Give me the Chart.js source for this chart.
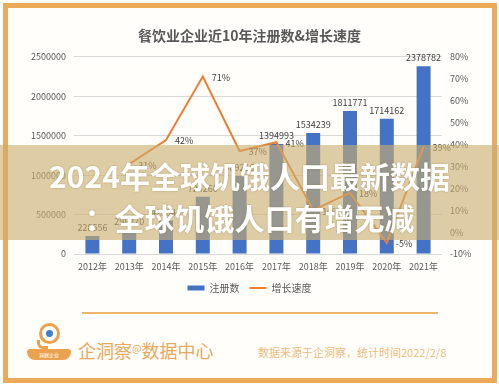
<!DOCTYPE html>
<html>
<head>
<meta charset="utf-8">
<script src="https://cdn.jsdelivr.net/npm/chart.js@4.4.0/dist/chart.umd.min.js"></script>
<style>
  html, body { margin: 0; padding: 0; background: #fff; }
  body { width: 499px; height: 385px; position: relative; overflow: hidden; font-family: 'Noto Sans CJK SC', sans-serif; }
  #frame { position: absolute; left: 3px; top: 3px; width: 484px; height: 370px; border: 5px solid #EBA95A; background: #fffefb; }
  #wrap { position: absolute; left: 0; top: 0; width: 499px; height: 305px; }
  #divider { position: absolute; left: 82px; top: 312px; width: 356px; height: 2px; background: #EDB46E; }
  #logo { position: absolute; left: 27px; top: 322px; width: 44px; height: 40px; }
  #logo .ring { position: absolute; left: 12px; top: 1px; width: 15px; height: 15px; border: 3px solid #EBA24E; border-radius: 50%; background: #fff; }
  #logo .eye { position: absolute; left: 4px; top: 4px; width: 7px; height: 7px; border-radius: 50%; background: #3F7FD0; }
  #logo .tail { position: absolute; left: 10px; top: 18px; width: 8px; height: 6px; border-left: 3px solid #EBA24E; border-bottom: 3px solid #EBA24E; border-radius: 0 0 0 6px; }
  #logo .ribbon { position: absolute; left: 0; top: 27px; width: 44px; height: 11px; background: #EBA24E; border-radius: 3px 3px 8px 8px; color: #fff; font-size: 5px; line-height: 11px; text-align: center; }
  #brand { position: absolute; left: 78px; top: 334px; font-size: 18px; color: #E9A85C; line-height: 28px; white-space: nowrap; }
  #brand sup { font-size: 10px; vertical-align: 6px; }
  #source { position: absolute; left: 258px; top: 343px; font-size: 11px; color: #EBBB7D; line-height: 18px; white-space: nowrap; }
  #banner { position: absolute; left: 0; top: 145px; width: 499px; height: 95px; background: rgba(201,174,109,0.62); }
  #banner div { position: absolute; left: 0; width: 499px; text-align: center; color: #fff; font-weight: 700; font-size: 30px; line-height: 40px; white-space: nowrap; text-shadow: 0 0 2px rgba(120,100,60,0.5); }
</style>
</head>
<body>
<div id="frame"></div>
<div id="wrap"><canvas id="chart" width="499" height="305"></canvas></div>
<div id="divider"></div>
<div id="logo"><div class="ring"><div class="eye"></div></div><div class="tail"></div><div class="ribbon">洞察企业</div></div>
<div id="brand">企洞察<sup>@</sup>数据中心</div>
<div id="source">数据来源于企洞察，统计时间2022/2/8</div>
<div id="banner">
  <div style="top:10px">2024年全球饥饿人口最新数据</div>
  <div style="top:52px">：全球饥饿人口有增无减</div>
</div>
<script>
const years = ['2012年', '2013年', '2014年', '2015年', '2016年', '2017年', '2018年', '2019年', '2020年', '2021年'];
const registrations = [228556, 298270, 423544, 724260, 989216, 1394993, 1534239, 1811771, 1714162, 2378782];
const growth = [null, 0.31, 0.42, 0.71, 0.37, 0.41, 0.10, 0.18, -0.05, 0.39];

const blue = '#4472C4';
const orange = '#ED7D31';
const grey = '#595959';

Chart.defaults.font.family = "'Noto Sans CJK SC', 'Microsoft YaHei', sans-serif";
Chart.defaults.color = grey;

// value labels above bars and right of line points
const valueLabels = {
  id: 'valueLabels',
  afterDatasetsDraw(chart) {
    const ctx = chart.ctx;
    ctx.save();
    ctx.font = "9px 'Noto Sans CJK SC', sans-serif";
    ctx.fillStyle = '#404040';
    chart.getDatasetMeta(0).data.forEach((bar, i) => {
      ctx.textAlign = 'center';
      ctx.textBaseline = 'bottom';
      ctx.fillText(String(registrations[i]), bar.x, bar.y - 4);
    });
    chart.getDatasetMeta(1).data.forEach((pt, i) => {
      if (growth[i] === null) return;
      ctx.textAlign = 'left';
      ctx.textBaseline = 'middle';
      ctx.fillText(Math.round(growth[i] * 100) + '%', pt.x + 9, pt.y + 1);
    });
    ctx.restore();
  }
};

new Chart(document.getElementById('chart'), {
  data: {
    labels: years,
    datasets: [{
      type: 'bar',
      label: '注册数',
      data: registrations,
      backgroundColor: blue,
      yAxisID: 'y',
      barPercentage: 0.38,
      categoryPercentage: 1,
      order: 2
    }, {
      type: 'line',
      label: '增长速度',
      data: growth,
      borderColor: orange,
      backgroundColor: orange,
      borderWidth: 2,
      pointRadius: 0,
      tension: 0,
      yAxisID: 'y1',
      order: 1
    }]
  },
  options: {
    responsive: false,
    animation: false,
    layout: { padding: { top: 0, left: 0, right: 0, bottom: 2 } },
    plugins: {
      title: {
        display: true,
        text: '餐饮业企业近10年注册数&增长速度',
        font: { size: 14, weight: 'bold' },
        color: grey,
        padding: { top: 27, bottom: 13 }
      },
      legend: {
        position: 'bottom',
        labels: {
          usePointStyle: true,
          pointStyleWidth: 17,
          boxHeight: 5,
          padding: 10,
          font: { size: 10 },
          color: grey,
          generateLabels(chart) {
            const items = Chart.defaults.plugins.legend.labels.generateLabels(chart);
            items.sort((a, b) => a.datasetIndex - b.datasetIndex);
            items[0].pointStyle = 'rect';
            items[1].pointStyle = 'line';
            items[1].strokeStyle = orange;
            items[1].lineWidth = 2;
            return items;
          }
        }
      },
      tooltip: { enabled: false }
    },
    scales: {
      x: {
        grid: { display: false, drawTicks: false },
        border: { display: false },
        ticks: { font: { size: 9 }, color: grey, padding: 7 },
        afterFit(s) { s.height = 19; }
      },
      y: {
        position: 'left',
        min: 0,
        max: 2500000,
        ticks: { stepSize: 500000, font: { size: 9 }, color: grey, padding: 8, callback: v => String(v) },
        grid: { color: '#D9D9D9', drawTicks: false },
        border: { display: false },
        afterFit(s) { s.width = 74; }
      },
      y1: {
        position: 'right',
        min: -0.1,
        max: 0.8,
        ticks: { stepSize: 0.1, font: { size: 9 }, color: grey, padding: 8, callback: v => Math.round(v * 100) + '%' },
        grid: { display: false, drawTicks: false },
        border: { display: false },
        afterFit(s) { s.width = 57; }
      }
    }
  },
  plugins: [valueLabels]
});
</script>
</body>
</html>
